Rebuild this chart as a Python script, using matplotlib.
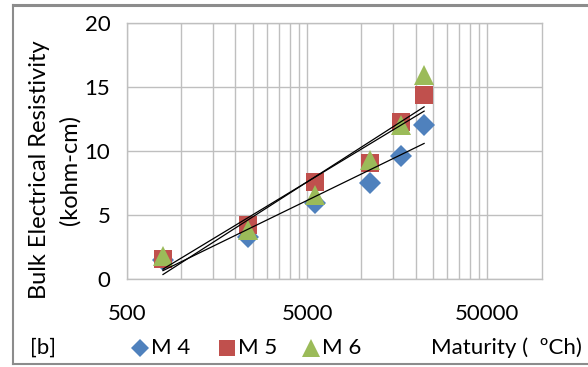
import numpy as np
import matplotlib
matplotlib.use("Agg")
import matplotlib.pyplot as plt
from matplotlib.lines import Line2D

# Data
maturity = [792, 2350, 5530, 11100, 16600, 22300]
series_names = ["M 4", "M 5", "M 6"]
m4 = [1.5, 3.3, 5.9, 7.5, 9.6, 12.0]
m5 = [1.6, 4.2, 7.6, 9.1, 12.3, 14.4]
m6 = [1.8, 3.8, 6.6, 9.3, 12.0, 15.9]
x_ticks = [500, 5000, 50000]
x_tick_labels = ["500", "5000", "50000"]
y_ticks = [0, 5, 10, 15, 20]

colors = ["#4F81BD", "#C0504D", "#9BBB59"]
markers = ["D", "s", "^"]
msizes = [11, 13, 15]

plt.rcParams['font.family'] = ['Lato', 'DejaVu Sans']

W, H = 588, 367
fig = plt.figure(figsize=(W / 100, H / 100), dpi=100)

# outer frame
fig.add_artist(Line2D([13 / W, 1.0], [1 - 5 / H, 1 - 5 / H], transform=fig.transFigure,
                      color="#8c8c8c", lw=2.2))
fig.add_artist(Line2D([13 / W, 1.0], [1 - 364 / H, 1 - 364 / H], transform=fig.transFigure,
                      color="#8c8c8c", lw=1.5))
fig.add_artist(Line2D([13 / W, 13 / W], [1 - 364 / H, 1 - 5 / H], transform=fig.transFigure,
                      color="#8c8c8c", lw=1.5))

left, right, top, bottom = 127, 541.5, 23, 279
ax = fig.add_axes([left / W, 1 - bottom / H, (right - left) / W, (bottom - top) / H])
ax.set_xscale("log")
ax.set_xlim(500, 100000)
ax.set_ylim(0, 20)

# gridlines
grid_x = [500 * k for k in range(1, 10)] + [5000 * k for k in range(1, 10)] + [50000]
for gx in grid_x:
    ax.axvline(gx, color="#BFBFBF", lw=1.0, zorder=0)
for gy in y_ticks:
    ax.axhline(gy, color="#BFBFBF", lw=1.0, zorder=0)
for s in ax.spines.values():
    s.set_color("#BFBFBF")
    s.set_linewidth(1.0)

series = [m4, m5, m6]
for i in range(3):
    ax.plot(maturity, series[i], linestyle="none", marker=markers[i], color=colors[i],
            markersize=msizes[i], markeredgewidth=0, zorder=3 + i)

# logarithmic trendlines
xs = np.array(maturity, dtype=float)
xx = np.geomspace(xs.min(), xs.max(), 50)
for i in range(3):
    a, b = np.polyfit(np.log(xs), np.array(series[i]), 1)
    ax.plot(xx, a * np.log(xx) + b, color="black", lw=0.9, zorder=10)

ax.set_xticks(x_ticks)
ax.set_xticklabels(x_tick_labels)
ax.xaxis.set_minor_locator(matplotlib.ticker.NullLocator())
ax.set_yticks(y_ticks)
ax.tick_params(axis="both", length=0, labelsize=16, colors="#000000")
ax.tick_params(axis="x", pad=18)
ax.tick_params(axis="y", pad=12)

# y label
fig.text(40 / W, 1 - 170 / H, "Bulk Electrical Resistivity", rotation=90,
         ha="center", va="center", fontsize=17)
fig.text(70 / W, 1 - 170 / H, "(kohm-cm)", rotation=90,
         ha="center", va="center", fontsize=17)

# bottom legend row
ly = 1 - 348 / H
fig.text(30 / W, ly, "[b]", ha="left", va="center", fontsize=16)
leg_x = [140, 227, 311]
for i in range(3):
    fig.add_artist(Line2D([leg_x[i] / W], [ly], transform=fig.transFigure, marker=markers[i],
                          color=colors[i], markersize=msizes[i] - 2, markeredgewidth=0,
                          linestyle="none"))
    fig.text((leg_x[i] + 11) / W, ly, series_names[i], ha="left", va="center", fontsize=16)
fig.text(431 / W, ly, "Maturity (  ºCh)", ha="left", va="center", fontsize=16)

fig.savefig("out.png", dpi=100)
